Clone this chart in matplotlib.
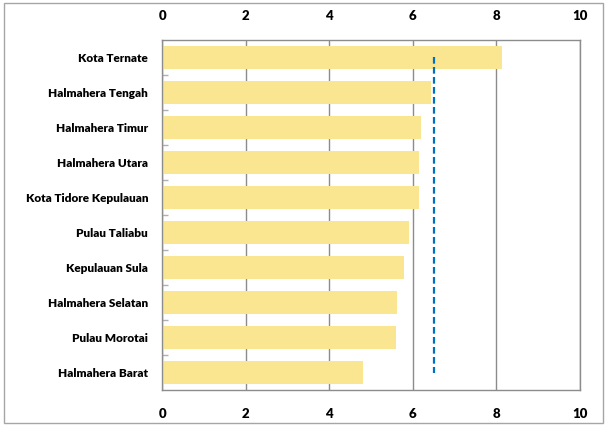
import matplotlib
matplotlib.use("Agg")
import matplotlib.pyplot as plt
from matplotlib.patches import Rectangle

regions = [
    "Kota Ternate",
    "Halmahera Tengah",
    "Halmahera Timur",
    "Halmahera Utara",
    "Kota Tidore Kepulauan",
    "Pulau Taliabu",
    "Kepulauan Sula",
    "Halmahera Selatan",
    "Pulau Morotai",
    "Halmahera Barat",
]
values = [8.13, 6.43, 6.21, 6.16, 6.15, 5.91, 5.79, 5.62, 5.60, 4.82]
provincial_avg = [6.5] * len(regions)
x_ticks = [0, 2, 4, 6, 8, 10]

plt.rcParams["font.family"] = ["Lato", "DejaVu Sans"]

fig = plt.figure(figsize=(6.07, 4.25), dpi=100)
ax = fig.add_axes([0.267, 0.082, 0.688, 0.824])

pos = list(range(len(regions)))
ax.barh(pos, values, height=0.65, color="#FAE591", zorder=2)
ax.plot(provincial_avg, pos, color="#0070C0", linestyle=(0, (3, 1.5)),
        linewidth=1.6, zorder=3)

ax.set_xlim(0, 10)
ax.set_ylim(len(regions) - 0.5, -0.5)
ax.set_xticks(x_ticks)
ax.set_xticklabels([str(t) for t in x_ticks], fontweight="heavy", fontsize=9.5)
ax.set_yticks(pos)
ax.set_yticklabels(regions, fontweight="heavy", fontsize=8.5)
ax.set_yticks([p + 0.5 for p in pos[:-1]], minor=True)

ax.tick_params(axis="x", which="both", length=0, pad=13,
               top=True, labeltop=True, bottom=True, labelbottom=True)
ax.tick_params(axis="y", which="major", length=0, pad=10)
ax.tick_params(axis="y", which="minor", direction="in", length=4,
               color="#B0B0B0", width=1)

ax.grid(axis="x", color="#8C8C8C", linewidth=1, zorder=1)
for side in ["top", "bottom", "left", "right"]:
    ax.spines[side].set_color("#8C8C8C")
    ax.spines[side].set_linewidth(1)

# thin frame around the whole chart area
fig.patches.append(Rectangle((0.006, 0.004), 0.988, 0.988,
                             transform=fig.transFigure, fill=False,
                             edgecolor="#A6A6A6", linewidth=1))

fig.savefig("out.png", dpi=100)
